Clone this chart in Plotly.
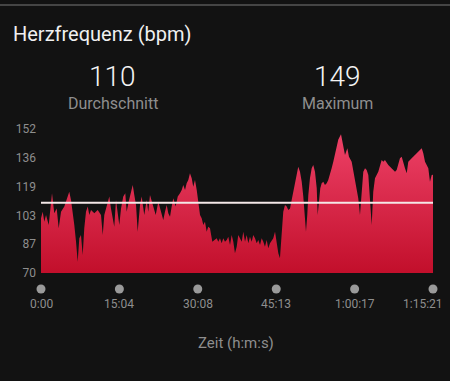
import plotly.graph_objects as go

# ---- data ----
time_s = [0, 20, 38, 58, 89, 127, 153, 181, 204, 231, 269, 308, 326, 346, 366, 384, 404, 423, 442, 461,
          481, 499, 519, 539, 557, 577, 615, 654, 692, 712, 730, 769, 788, 807, 827, 845, 865, 885, 903, 923,
          949, 972, 988, 1011, 1038, 1058, 1076, 1096, 1115, 1134, 1142, 1161, 1191, 1219, 1237, 1257, 1277,
          1295, 1323, 1353, 1384, 1410, 1430, 1450, 1468, 1488, 1507, 1526, 1553, 1577, 1603, 1623, 1641,
          1661, 1680, 1699, 1718, 1738, 1756, 1776, 1796, 1814, 1834, 1853, 1872, 1891, 1911, 1929, 1949,
          1976, 2007, 2026, 2045, 2064, 2084, 2102, 2122, 2142, 2160, 2180, 2199, 2218, 2237, 2257, 2275,
          2295, 2315, 2333, 2353, 2372, 2391, 2410, 2430, 2448, 2468, 2488, 2506, 2526, 2545, 2564, 2583,
          2603, 2621, 2641, 2661, 2679, 2699, 2718, 2737, 2756, 2776, 2794, 2814, 2834, 2852, 2872, 2891,
          2910, 2929, 2949, 2967, 2987, 3007, 3025, 3045, 3056, 3071, 3083, 3102, 3122, 3140, 3160, 3180,
          3191, 3206, 3221, 3237, 3256, 3275, 3295, 3313, 3333, 3352, 3371, 3391, 3410, 3429, 3460, 3486,
          3506, 3533, 3552, 3583, 3602, 3621, 3641, 3659, 3679, 3699, 3717, 3737, 3756, 3775, 3794, 3814,
          3832, 3852, 3890, 3910, 3929, 3948, 3967, 4005, 4045, 4083, 4102, 4121, 4140, 4160, 4178, 4198,
          4218, 4236, 4275, 4313, 4351, 4371, 4391, 4409, 4429, 4467, 4486, 4506, 4521]
heart_rate = [101.2, 104.9, 99.2, 103.0, 97.3, 115.4, 104.0, 106.8, 95.5, 104.9, 107.8, 113.5, 116.3, 111.6,
              104.9, 97.3, 87.8, 76.4, 89.8, 91.6, 80.3, 95.5, 104.9, 107.8, 103.0, 105.9, 104.0, 105.9,
              103.0, 91.6, 103.0, 110.6, 113.5, 106.8, 102.1, 96.4, 111.6, 104.9, 97.3, 106.8, 113.5, 115.4,
              104.9, 110.6, 117.3, 120.1, 114.4, 108.7, 93.5, 106.8, 108.7, 113.5, 103.0, 111.6, 104.9,
              114.4, 110.6, 106.8, 103.0, 110.6, 104.9, 100.2, 104.9, 108.7, 104.0, 102.1, 107.8, 112.5,
              107.8, 113.5, 115.4, 117.3, 120.1, 117.3, 121.1, 123.0, 126.8, 123.9, 119.1, 123.0, 117.3,
              110.6, 103.0, 101.2, 97.3, 99.2, 93.5, 96.4, 95.5, 87.8, 88.8, 89.8, 87.8, 89.8, 86.9, 89.8,
              87.8, 88.8, 90.7, 85.9, 91.6, 87.8, 81.2, 85.0, 91.6, 89.8, 87.8, 93.5, 87.8, 91.6, 86.9,
              90.7, 87.8, 91.6, 89.8, 86.9, 88.8, 85.9, 89.8, 87.8, 85.0, 88.8, 84.1, 86.9, 88.8, 89.8,
              93.5, 85.9, 81.2, 78.4, 91.6, 104.9, 108.7, 107.8, 105.9, 106.8, 111.6, 116.3, 120.1, 125.8,
              130.5, 127.7, 122.0, 113.5, 101.2, 93.5, 103.0, 114.4, 123.9, 129.6, 131.5, 127.7, 118.2,
              103.0, 110.6, 118.2, 121.1, 122.0, 120.1, 121.1, 123.0, 125.8, 129.6, 133.4, 138.2, 142.9,
              146.0, 149.0, 141.0, 137.2, 141.0, 136.2, 133.4, 127.7, 122.0, 118.2, 112.5, 103.0, 116.3,
              127.7, 129.6, 128.7, 125.8, 112.5, 97.3, 116.3, 123.9, 127.7, 130.5, 134.4, 133.4, 134.4,
              131.5, 129.6, 127.7, 128.7, 131.5, 135.3, 136.2, 132.5, 129.6, 126.8, 133.4, 135.3, 137.2,
              139.1, 140.0, 141.0, 138.2, 133.4, 129.6, 122.0, 125.8, 126.0]
avg_hr = 110
max_hr = 149
x_tick_vals = [0, 904, 1808, 2713, 3617, 4521]
x_tick_text = ["0:00", "15:04", "30:08", "45:13", "1:00:17", "1:15:21"]
y_tick_vals = [70, 86.4, 102.8, 119.2, 135.6, 152]
y_tick_text = ["70", "87", "103", "119", "136", "152"]
Y_MIN, Y_MAX = 70, 152

# ---- layout helpers (pixel -> paper) ----
W, H = 450, 381
PL, PR, PT = 41, 433, 129
CHART_B = 273          # bottom of the heart-rate area
PB = 310               # bottom of the whole plotting region (incl. dot row)


def px(x):
    return (x - PL) / (PR - PL)


def py(y):
    return (PB - y) / (PB - PT)


BG = "#121212"
GREY = "#8e8e8e"
FONT = "Roboto"

fig = go.Figure()
fig.add_trace(go.Scatter(
    x=time_s, y=heart_rate, mode="lines", line=dict(width=0, color="#d8223f"),
    fill="tozeroy",
    fillgradient=dict(type="vertical", start=70, stop=150,
                      colorscale=[[0, "#c20f2b"], [1, "#ee4268"]]),
    hoverinfo="skip", showlegend=False))
fig.add_trace(go.Scatter(
    x=[x_tick_vals[0], x_tick_vals[-1]], y=[avg_hr, avg_hr], mode="lines",
    line=dict(color="#f4e8e8", width=2), hoverinfo="skip", showlegend=False))
# tick dots in a thin row under the chart
fig.add_trace(go.Scatter(
    x=x_tick_vals, y=[(PB - 289) / (PB - CHART_B)] * len(x_tick_vals), yaxis="y2",
    mode="markers", cliponaxis=False,
    marker=dict(size=9, color="#9a9a9a", line=dict(width=0)),
    hoverinfo="skip", showlegend=False))

shapes = [dict(type="line", xref="paper", yref="paper", x0=px(0), x1=px(W),
               y0=py(5), y1=py(5), line=dict(color="#454545", width=2))]

ann = []
ann.append(dict(text="Herzfrequenz (bpm)", xref="paper", yref="paper", x=px(11), y=py(34),
                xanchor="left", yanchor="middle", showarrow=False,
                font=dict(family=FONT, size=20, color="#f0f0f0")))
ann.append(dict(text=str(avg_hr), xref="paper", yref="paper", x=px(112.5), y=py(76),
                xanchor="center", yanchor="middle", showarrow=False,
                font=dict(family=FONT, size=28, color="#f4f4f4", weight=300)))
ann.append(dict(text="Durchschnitt", xref="paper", yref="paper", x=px(112.5), y=py(103.5),
                xanchor="center", yanchor="middle", showarrow=False,
                font=dict(family=FONT, size=16, color=GREY)))
ann.append(dict(text=str(max_hr), xref="paper", yref="paper", x=px(337.5), y=py(76),
                xanchor="center", yanchor="middle", showarrow=False,
                font=dict(family=FONT, size=28, color="#f4f4f4", weight=300)))
ann.append(dict(text="Maximum", xref="paper", yref="paper", x=px(337), y=py(103.5),
                xanchor="center", yanchor="middle", showarrow=False,
                font=dict(family=FONT, size=16, color=GREY)))
ann.append(dict(text="Zeit (h:m:s)", xref="paper", yref="paper", x=px(236), y=py(343),
                xanchor="center", yanchor="middle", showarrow=False,
                font=dict(family=FONT, size=15, color=GREY)))
# x tick labels, placed on the x scale
for i, (tv, tt) in enumerate(zip(x_tick_vals, x_tick_text)):
    last = i == len(x_tick_vals) - 1
    ann.append(dict(text=tt, xref="x", yref="paper", x=tv, y=py(303.5),
                    xanchor="right" if last else "center", yanchor="middle",
                    xshift=12 if last else 0, showarrow=False,
                    font=dict(family=FONT, size=12, color=GREY)))

dom_split = (PB - CHART_B) / (PB - PT)
fig.update_layout(
    width=W, height=H,
    margin=dict(l=PL, r=W - PR, t=PT, b=H - PB, pad=0),
    paper_bgcolor=BG, plot_bgcolor=BG,
    shapes=shapes, annotations=ann,
    xaxis=dict(range=[0, 4521], tickvals=x_tick_vals, ticktext=x_tick_text,
               showticklabels=False, anchor="y",
               showgrid=False, zeroline=False, showline=False, ticks="",
               automargin=False, fixedrange=True),
    yaxis=dict(domain=[dom_split, 1], range=[Y_MIN, Y_MAX],
               tickvals=y_tick_vals, ticktext=y_tick_text,
               showgrid=False, zeroline=False, showline=False, ticks="",
               ticklabelstandoff=4, tickfont=dict(family=FONT, size=12, color=GREY),
               automargin=False, fixedrange=True),
    yaxis2=dict(domain=[0, dom_split], range=[0, 1], anchor="x",
                showticklabels=False, showgrid=False, zeroline=False, showline=False,
                ticks="", fixedrange=True),
)

fig.write_html("out.html", config={"displayModeBar": False},
               post_script="document.body.style.margin='0';document.body.style.background='#121212';")
